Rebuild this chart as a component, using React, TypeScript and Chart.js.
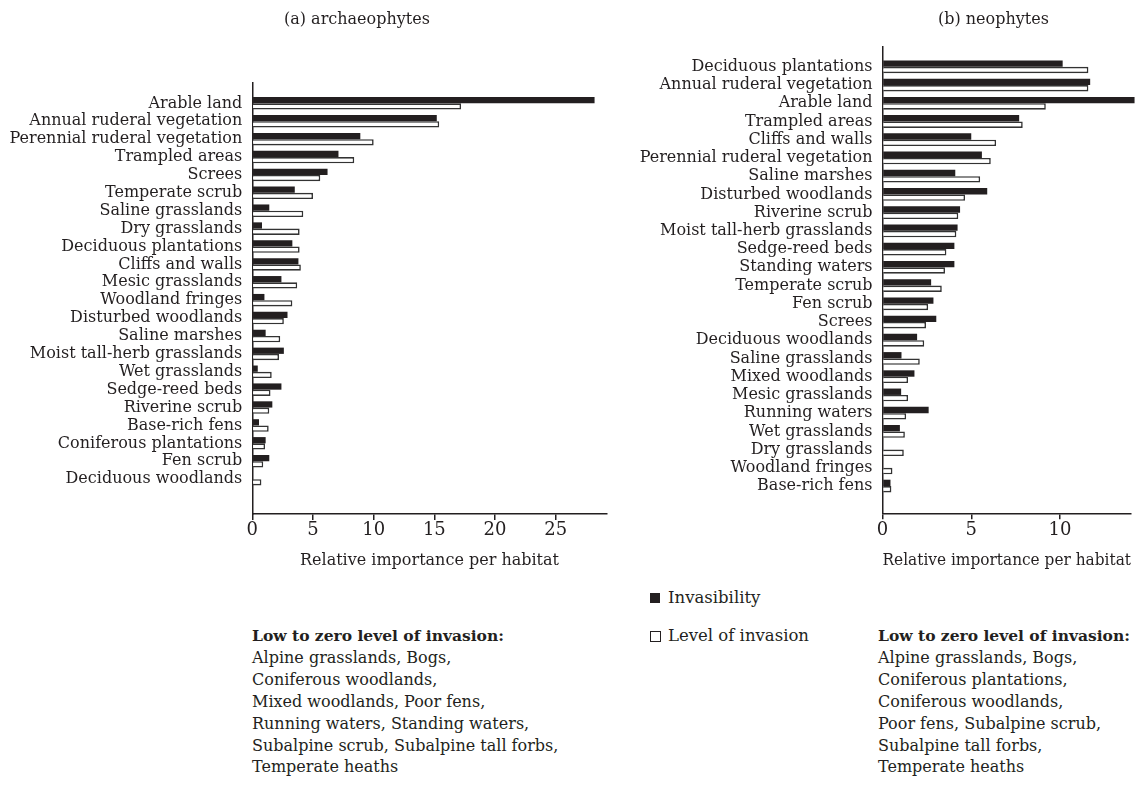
import React, { useEffect, useRef } from "react";
import { Chart, registerables } from "chart.js";

Chart.register(...registerables);

// ---------- data ----------
const archCategories = [
  "Arable land",
  "Annual ruderal vegetation",
  "Perennial ruderal vegetation",
  "Trampled areas",
  "Screes",
  "Temperate scrub",
  "Saline grasslands",
  "Dry grasslands",
  "Deciduous plantations",
  "Cliffs and walls",
  "Mesic grasslands",
  "Woodland fringes",
  "Disturbed woodlands",
  "Saline marshes",
  "Moist tall-herb grasslands",
  "Wet grasslands",
  "Sedge-reed beds",
  "Riverine scrub",
  "Base-rich fens",
  "Coniferous plantations",
  "Fen scrub",
  "Deciduous woodlands",
];
const archInvasibility = [28.2, 15.2, 8.9, 7.1, 6.2, 3.5, 1.4, 0.8, 3.3, 3.8, 2.4, 1.0, 2.9, 1.1, 2.6, 0.45, 2.4, 1.65, 0.55, 1.1, 1.4, 0];
const archLevel = [17.2, 15.4, 10.0, 8.4, 5.6, 5.0, 4.2, 3.9, 3.9, 4.0, 3.7, 3.3, 2.6, 2.3, 2.2, 1.6, 1.5, 1.4, 1.35, 1.05, 0.9, 0.75];
const archTicks = [0, 5, 10, 15, 20, 25];

const neoCategories = [
  "Deciduous plantations",
  "Annual ruderal vegetation",
  "Arable land",
  "Trampled areas",
  "Cliffs and walls",
  "Perennial ruderal vegetation",
  "Saline marshes",
  "Disturbed woodlands",
  "Riverine scrub",
  "Moist tall-herb grasslands",
  "Sedge-reed beds",
  "Standing waters",
  "Temperate scrub",
  "Fen scrub",
  "Screes",
  "Deciduous woodlands",
  "Saline grasslands",
  "Mixed woodlands",
  "Mesic grasslands",
  "Running waters",
  "Wet grasslands",
  "Dry grasslands",
  "Woodland fringes",
  "Base-rich fens",
];
const neoInvasibility = [10.15, 11.7, 14.2, 7.7, 5.0, 5.6, 4.1, 5.9, 4.37, 4.23, 4.05, 4.05, 2.74, 2.87, 3.03, 1.95, 1.07, 1.8, 1.05, 2.6, 0.98, 0, 0, 0.45];
const neoLevel = [11.6, 11.6, 9.2, 7.9, 6.4, 6.1, 5.5, 4.65, 4.27, 4.16, 3.6, 3.52, 3.34, 2.57, 2.45, 2.35, 2.1, 1.44, 1.44, 1.33, 1.26, 1.2, 0.56, 0.5];
const neoTicks = [0, 5, 10];

const seriesLabels = ["Invasibility", "Level of invasion"];
const axisTitle = "Relative importance per habitat";
const archTitle = "(a) archaeophytes";
const neoTitle = "(b) neophytes";
const noteHeading = "Low to zero level of invasion:";
const archNote = [
  "Alpine grasslands, Bogs,",
  "Coniferous woodlands,",
  "Mixed woodlands, Poor fens,",
  "Running waters, Standing waters,",
  "Subalpine scrub, Subalpine tall forbs,",
  "Temperate heaths",
];
const neoNote = [
  "Alpine grasslands, Bogs,",
  "Coniferous plantations,",
  "Coniferous woodlands,",
  "Poor fens, Subalpine scrub,",
  "Subalpine tall forbs,",
  "Temperate heaths",
];

// ---------- styling ----------
const FONT = "'DejaVu Serif', 'Liberation Serif', serif";
const INK = "#231f20";
const DARK = "#231f20";
const EDGE = "#333333";

type PanelProps = {
  cats: string[];
  inv: number[];
  lvl: number[];
  ticks: number[];
  xMax: number;
  yMin: number;
  yMax: number;
  yAxisWidth: number;
  xAxisHeight: number;
  padTop: number;
  padRight: number;
  left: number;
  width: number;
  height: number;
};

function Panel(p: PanelProps) {
  const ref = useRef<HTMLCanvasElement | null>(null);
  useEffect(() => {
    if (!ref.current) return;
    const chart = new Chart(ref.current, {
      type: "bar",
      data: {
        datasets: [
          {
            label: seriesLabels[0],
            data: p.inv.map((v, i) => ({ x: v, y: i })),
            backgroundColor: DARK,
            borderWidth: 0,
            categoryPercentage: 0.7,
            barPercentage: 1,
            clip: false,
          } as any,
          {
            label: seriesLabels[1],
            data: p.lvl.map((v, i) => ({ x: v, y: i })),
            backgroundColor: "#ffffff",
            borderColor: EDGE,
            borderWidth: 1.6,
            categoryPercentage: 0.7,
            barPercentage: 1,
          } as any,
        ],
      },
      options: {
        indexAxis: "y",
        animation: false,
        responsive: true,
        maintainAspectRatio: false,
        layout: { padding: { top: p.padTop, right: p.padRight, left: 0, bottom: 0 } },
        plugins: {
          legend: { display: false },
          tooltip: { enabled: false },
        },
        scales: {
          x: {
            type: "linear",
            position: "bottom",
            min: 0,
            max: p.xMax,
            afterBuildTicks: (s: any) => {
              s.ticks = p.ticks.map((v) => ({ value: v }));
            },
            afterFit: (s: any) => {
              s.height = p.xAxisHeight;
            },
            border: { display: true, color: INK, width: 1.5 },
            grid: { display: true, drawOnChartArea: false, drawTicks: true, tickLength: 6, color: INK, lineWidth: 1.5 },
            ticks: { font: { family: FONT, size: 18 }, color: INK, padding: 0, maxRotation: 0 },
            title: {
              display: true,
              text: axisTitle,
              font: { family: FONT, size: 16 },
              color: INK,
              padding: { top: 0, bottom: 10 },
            },
          },
          y: {
            type: "linear",
            min: p.yMin,
            max: p.yMax,
            reverse: true,
            afterBuildTicks: (s: any) => {
              s.ticks = p.cats.map((_, i) => ({ value: i }));
            },
            afterFit: (s: any) => {
              s.width = p.yAxisWidth;
            },
            border: { display: true, color: INK, width: 1.5 },
            grid: { display: true, drawOnChartArea: false, drawTicks: false },
            ticks: {
              autoSkip: false,
              font: { family: FONT, size: 16 },
              color: INK,
              padding: 10,
              callback: (v: any) => p.cats[v] ?? "",
            },
          },
        },
      } as any,
    });
    return () => chart.destroy();
  }, []);
  return (
    <div style={{ position: "absolute", left: p.left, top: 0, width: p.width, height: p.height }}>
      <canvas ref={ref} />
    </div>
  );
}

const textStyle: React.CSSProperties = {
  position: "absolute",
  fontFamily: FONT,
  fontSize: 16,
  color: INK,
  whiteSpace: "nowrap",
};

function Note({ left, top, lines }: { left: number; top: number; lines: string[] }) {
  return (
    <div style={{ ...textStyle, left, top, lineHeight: "21.9px" }}>
      <div style={{ fontWeight: "bold", fontSize: 15.5 }}>{noteHeading}</div>
      {lines.map((l, i) => (
        <div key={i}>{l}</div>
      ))}
    </div>
  );
}

export default function App() {
  return (
    <div style={{ position: "fixed", left: 0, top: 0, width: 1146, height: 792, background: "#fff", overflow: "hidden" }}>
      <Panel
        cats={archCategories}
        inv={archInvasibility}
        lvl={archLevel}
        ticks={archTicks}
        xMax={29.2}
        yMin={-0.59}
        yMax={22.4}
        yAxisWidth={252.3}
        xAxisHeight={66}
        padTop={83}
        padRight={13.3}
        left={0}
        width={620}
        height={580}
      />
      <Panel
        cats={neoCategories}
        inv={neoInvasibility}
        lvl={neoLevel}
        ticks={neoTicks}
        xMax={14.0}
        yMin={-0.57}
        yMax={23.96}
        yAxisWidth={262.5}
        xAxisHeight={66.7}
        padTop={46.7}
        padRight={15}
        left={620}
        width={526}
        height={580}
      />
      <div style={{ ...textStyle, left: 284, top: 8, lineHeight: "22px" }}>{archTitle}</div>
      <div style={{ ...textStyle, left: 938, top: 8, lineHeight: "22px" }}>{neoTitle}</div>

      {/* legend */}
      <div style={{ position: "absolute", left: 650, top: 593, width: 10, height: 10, background: DARK }} />
      <div style={{ ...textStyle, left: 668, top: 587, lineHeight: "22px", fontSize: 16.5 }}>{seriesLabels[0]}</div>
      <div style={{ position: "absolute", left: 650, top: 631, width: 8.5, height: 8.5, border: `1.2px solid ${INK}`, background: "#fff" }} />
      <div style={{ ...textStyle, left: 668, top: 625, lineHeight: "22px", fontSize: 16.5 }}>{seriesLabels[1]}</div>

      <Note left={252} top={625} lines={archNote} />
      <Note left={878} top={625} lines={neoNote} />
    </div>
  );
}
